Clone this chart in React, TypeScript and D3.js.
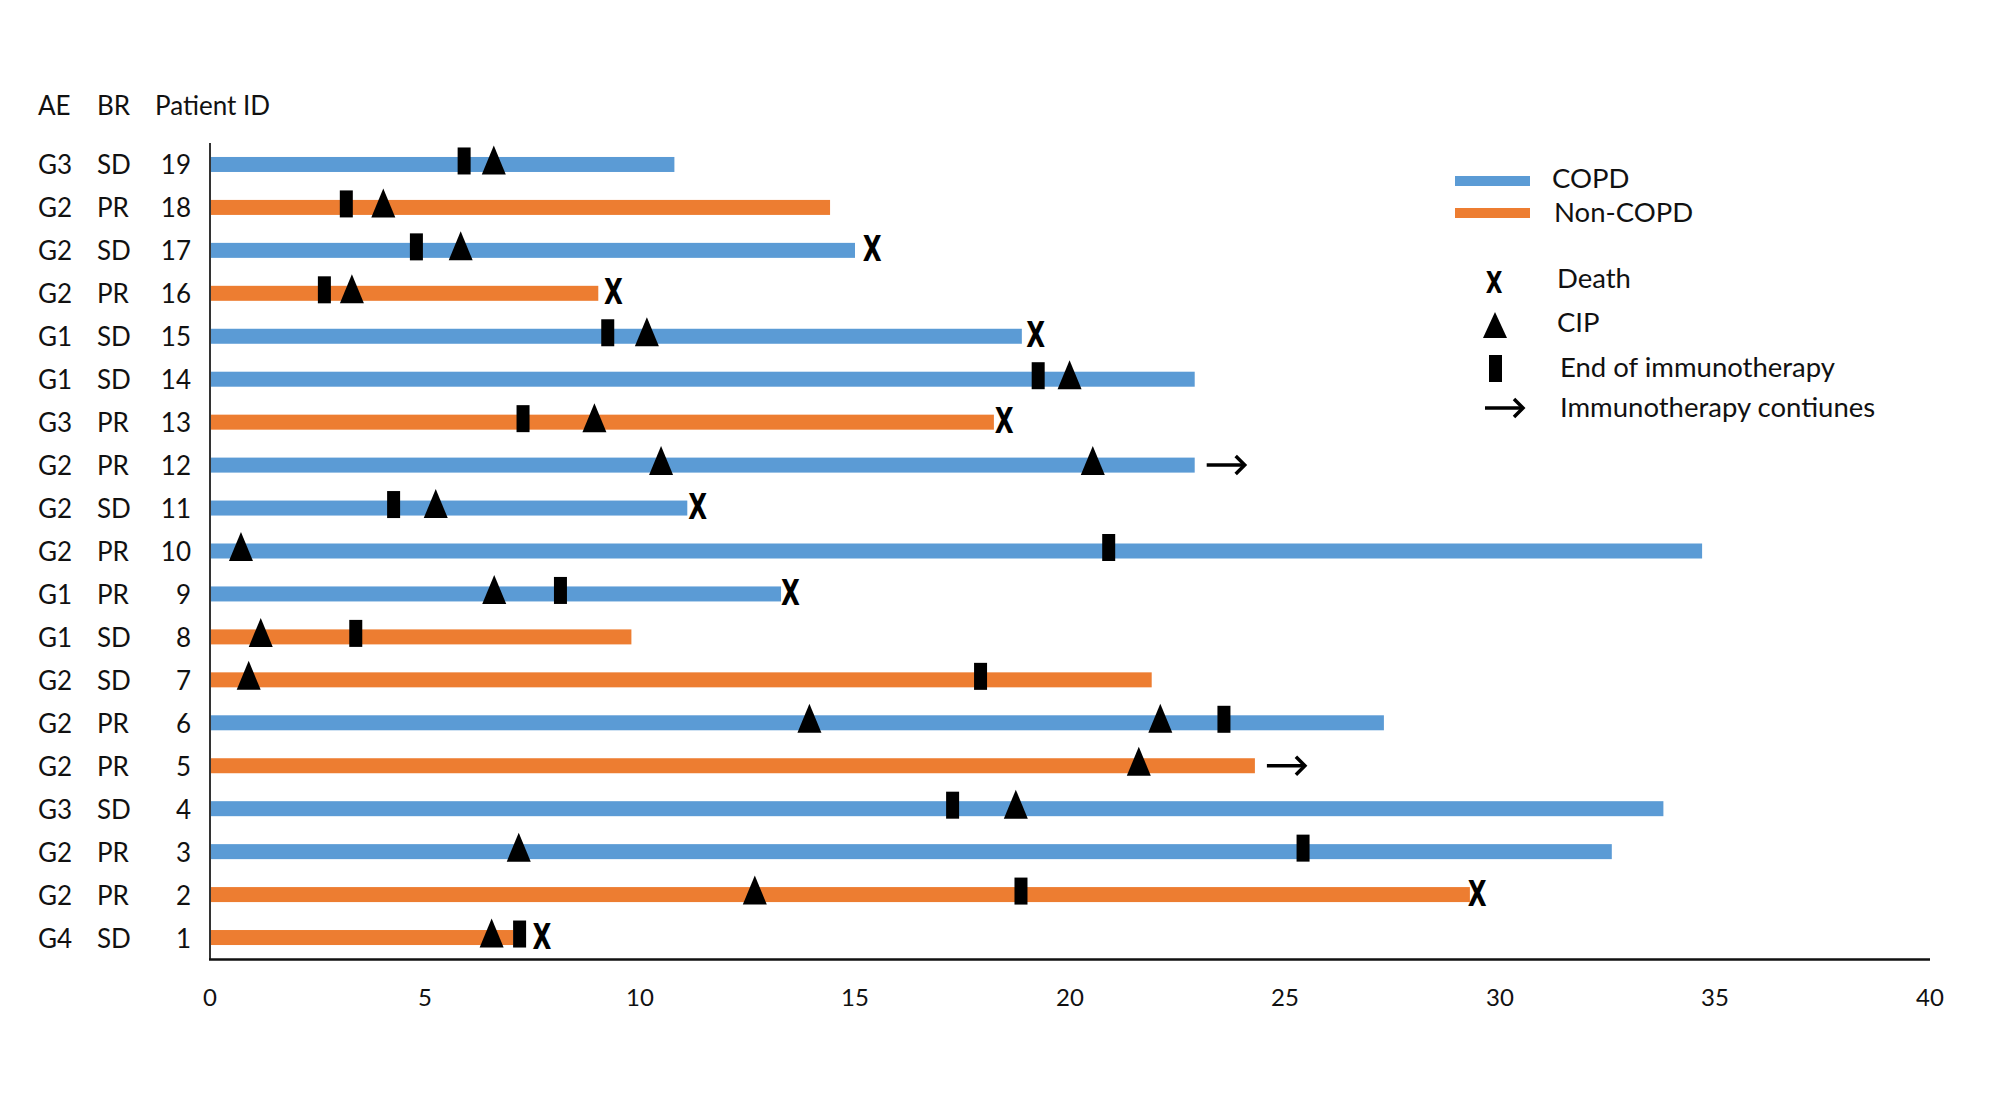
import React from "react";
import * as d3 from "d3";

const patientIds = [19, 18, 17, 16, 15, 14, 13, 12, 11, 10, 9, 8, 7, 6, 5, 4, 3, 2, 1];
const aeGrades = ["G3", "G2", "G2", "G2", "G1", "G1", "G3", "G2", "G2", "G2", "G1", "G1", "G2", "G2", "G2", "G3", "G2", "G2", "G4"];
const bestResponse = ["SD", "PR", "SD", "PR", "SD", "SD", "PR", "PR", "SD", "PR", "PR", "SD", "SD", "PR", "PR", "SD", "PR", "PR", "SD"];
const groups = ["COPD", "Non-COPD", "COPD", "Non-COPD", "COPD", "COPD", "Non-COPD", "COPD", "COPD", "COPD", "COPD", "Non-COPD", "Non-COPD", "COPD", "Non-COPD", "COPD", "COPD", "Non-COPD", "Non-COPD"];
const durations = [10.8, 14.42, 15.0, 9.03, 18.88, 22.9, 18.23, 22.9, 11.1, 34.7, 13.28, 9.8, 21.9, 27.3, 24.3, 33.8, 32.6, 29.3, 7.05];
const cipTimes: number[][] = [[6.6], [4.03], [5.83], [3.3], [10.16], [19.99], [8.94], [10.49, 20.53], [5.25], [0.72], [6.61], [1.18], [0.9], [13.94, 22.1], [21.6], [18.74], [7.18], [12.67], [6.55]];
const endTimes: (number | null)[] = [5.91, 3.17, 4.8, 2.66, 9.25, 19.26, 7.28, null, 4.27, 20.9, 8.15, 3.39, 17.92, 23.58, null, 17.27, 25.42, 18.86, 7.2];
const deathTimes: (number | null)[] = [null, null, 15.4, 9.38, 19.2, null, 18.47, null, 11.34, null, 13.5, null, null, null, null, null, null, 29.47, 7.72];
const continues = [false, false, false, false, false, false, false, true, false, false, false, false, false, false, true, false, false, false, false];
const xTicks = [0, 5, 10, 15, 20, 25, 30, 35, 40];
const groupNames = ["COPD", "Non-COPD"];
const markerLabels = ["Death", "CIP", "End of immunotherapy", "Immunotherapy contiunes"];

const W = 2008;
const H = 1098;
const FONT = "Lato, 'Open Sans', sans-serif";

export default function App() {
  const x = d3.scaleLinear().domain([0, 40]).range([210, 1930]);
  const y = d3.scaleBand<number>().domain(patientIds).range([143, 959]);
  const color = d3.scaleOrdinal<string, string>().domain(groupNames).range(["#5B9BD5", "#ED7D31"]);
  const barH = 15;
  const triPath = (cx: number, cy: number) =>
    `M${cx},${cy - 19} L${cx + 12},${cy + 10} L${cx - 12},${cy + 10} Z`;
  const arrow = (x0: number, cy: number, len: number) => (
    <g stroke="#000" strokeWidth={3.5} fill="none" strokeLinecap="butt">
      <line x1={x0} y1={cy} x2={x0 + len - 2} y2={cy} />
      <path d={`M${x0 + len - 11},${cy - 9} L${x0 + len - 2},${cy} L${x0 + len - 11},${cy + 9}`} strokeLinejoin="miter" />
    </g>
  );
  const deathMark = (cx: number, baseY: number, size: number) => (
    <text
      transform={`translate(${cx},${baseY}) scale(0.7,1)`}
      fontSize={size}
      fontFamily="'DejaVu Sans', sans-serif"
      fontWeight={700}
      textAnchor="middle"
      fill="#000"
    >
      X
    </text>
  );

  return (
    <svg width={W} height={H} style={{ position: "absolute", left: 0, top: 0, background: "#fff" }} fontFamily={FONT}>
      <rect x={0} y={0} width={W} height={H} fill="#fff" />
      {/* headers */}
      <g fontSize={26} fill="#111">
        <text x={38} y={115}>AE</text>
        <text x={97} y={115}>BR</text>
        <text x={155} y={115}>Patient ID</text>
      </g>
      {/* rows */}
      {patientIds.map((id, i) => {
        const cy = (y(id) as number) + y.bandwidth() / 2;
        return (
          <g key={id}>
            <text x={38} y={cy + 10} fontSize={26} fill="#111">{aeGrades[i]}</text>
            <text x={97} y={cy + 10} fontSize={26} fill="#111">{bestResponse[i]}</text>
            <text x={191} y={cy + 10} fontSize={26} fill="#111" textAnchor="end">{id}</text>
            <rect x={x(0)} y={cy - barH / 2} width={x(durations[i]) - x(0)} height={barH} fill={color(groups[i])} />
            {endTimes[i] != null && (
              <rect x={x(endTimes[i] as number) - 6.5} y={cy - 17} width={13} height={27} fill="#000" />
            )}
            {cipTimes[i].map((t, j) => (
              <path key={j} d={triPath(x(t), cy)} fill="#000" />
            ))}
            {deathTimes[i] != null && deathMark(x(deathTimes[i] as number), cy + 11, 35)}
            {continues[i] && arrow(x(durations[i]) + 12, cy, 40)}
          </g>
        );
      })}
      {/* axes */}
      <line x1={210} y1={143} x2={210} y2={960} stroke="#333" strokeWidth={2} />
      <line x1={209} y1={959.5} x2={x(40)} y2={959.5} stroke="#111" strokeWidth={2.5} />
      {xTicks.map((t) => (
        <text key={t} x={x(t)} y={1006} fontSize={24} textAnchor="middle" fill="#111">{t}</text>
      ))}
      {/* legend */}
      <g fontSize={27.5} fill="#111">
        {groupNames.map((g, i) => (
          <g key={g}>
            <rect x={1455} y={176 + i * 32} width={75} height={10} fill={color(g)} />
            <text x={1552 + i * 2} y={188 + i * 34}>{g}</text>
          </g>
        ))}
        {deathMark(1494, 293, 31)}
        <path d={`M1495,312 L1507,338 L1483,338 Z`} fill="#000" />
        <rect x={1489} y={355} width={13} height={27} fill="#000" />
        {arrow(1485, 408, 40)}
        {markerLabels.map((m, i) => (
          <text key={m} x={i < 2 ? 1557 : 1560} y={[288, 332, 377, 417][i]}>{m}</text>
        ))}
      </g>
    </svg>
  );
}
